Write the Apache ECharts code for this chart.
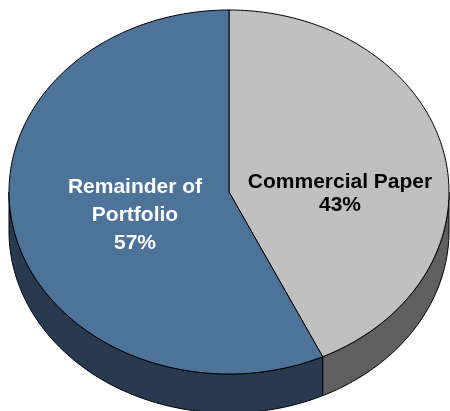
<!DOCTYPE html>
<html>
<head>
<meta charset="utf-8">
<script src="https://cdn.jsdelivr.net/npm/echarts@6/dist/echarts.min.js"></script>
<style>
html,body{margin:0;padding:0;background:#fff;}
#chart{width:450px;height:411px;}
</style>
</head>
<body>
<div id="chart"></div>
<script>
// ---- data ----
const categories = ['Commercial Paper', 'Remainder of\nPortfolio'];
const values = [43, 57];

// ---- styling / layout (not data) ----
const topColors = ['#C0C0C0', '#4E7399'];
const sideColors = ['#5F5F5F', '#283A50'];
const labelColors = ['#000000', '#FFFFFF'];
const labelLineHeights = [23, 28];
const labelAnchors = [[340, 194], [135, 215]];
const geo = { cx: 229, cy: 192, rx: 220, ry: 182, depth: 39 };

const total = values.reduce((a, b) => a + b, 0);

function pt(theta, dy) {
  return [geo.cx + geo.rx * Math.sin(theta), geo.cy - geo.ry * Math.cos(theta) + (dy || 0)];
}
function arcPts(a, b, dy) {
  const n = Math.max(2, Math.ceil(Math.abs(b - a) / (Math.PI / 180)));
  const out = [];
  for (let i = 0; i <= n; i++) out.push(pt(a + (b - a) * i / n, dy));
  return out;
}

const chart = echarts.init(document.getElementById('chart'), null, { renderer: 'canvas' });

chart.setOption({
  animation: false,
  series: [{
    type: 'custom',
    coordinateSystem: 'none',
    data: values.map((v, i) => ({ value: [v, i], name: categories[i] })),
    renderItem: function (params, api) {
      const idx = params.dataIndex;
      let before = 0;
      for (let k = 0; k < idx; k++) before += values[k];
      const v = api.value(0);
      const a = 2 * Math.PI * before / total;
      const b = 2 * Math.PI * (before + v) / total;
      const children = [];
      // side (front visible part: theta between PI/2 and 3PI/2)
      const s = Math.max(a, Math.PI / 2), e = Math.min(b, 3 * Math.PI / 2);
      if (e > s) {
        const topArc = arcPts(s, e, 0);
        const botArc = arcPts(e, s, geo.depth);
        children.push({
          type: 'polygon',
          shape: { points: topArc.concat(botArc) },
          style: { fill: sideColors[idx], stroke: '#000', lineWidth: 1 }
        });
      }
      // top face
      const topPts = [[geo.cx, geo.cy]].concat(arcPts(a, b, 0));
      children.push({
        type: 'polygon',
        z2: 10,
        shape: { points: topPts },
        style: { fill: topColors[idx], stroke: '#000', lineWidth: 1, lineJoin: 'round' }
      });
      children.push({
        type: 'text',
        z2: 20,
        x: labelAnchors[idx][0],
        y: labelAnchors[idx][1],
        style: {
          text: categories[idx] + '\n' + v + '%',
          fill: labelColors[idx],
          fontSize: 21,
          fontWeight: 'bold',
          fontFamily: 'Liberation Sans, Arial, sans-serif',
          align: 'center',
          verticalAlign: 'middle',
          lineHeight: labelLineHeights[idx]
        }
      });
      return { type: 'group', children: children };
    }
  }]
});
</script>
</body>
</html>
